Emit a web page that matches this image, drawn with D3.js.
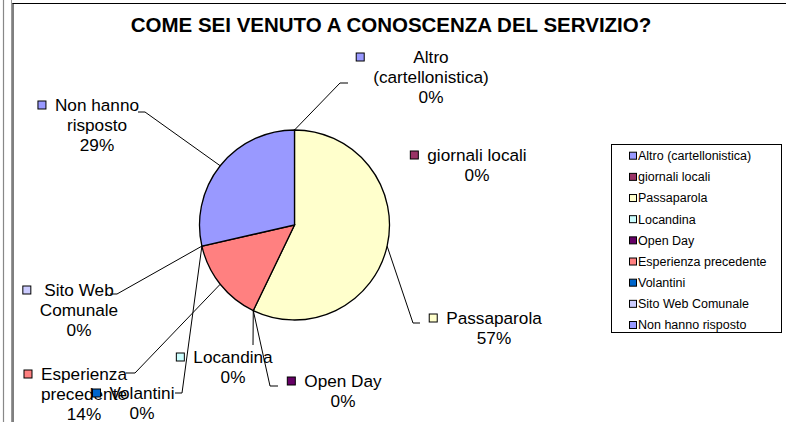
<!DOCTYPE html>
<html><head><meta charset="utf-8">
<script src="https://cdn.jsdelivr.net/npm/d3@7/dist/d3.min.js"></script>
<style>
html,body{margin:0;padding:0;background:#fff;}
svg{display:block;font-family:"Liberation Sans",Arial,sans-serif;}
</style></head>
<body><svg id="c" width="786" height="422"></svg>
<script>
// ---- data ----
const title = "COME SEI VENUTO A CONOSCENZA DEL SERVIZIO?";
const categories = ["Altro (cartellonistica)","giornali locali","Passaparola","Locandina","Open Day","Esperienza precedente","Volantini","Sito Web Comunale","Non hanno risposto"];
const counts = [0,0,4,0,0,1,0,0,2];
const colors = ["#9999FF","#993366","#FFFFCC","#CCFFFF","#660066","#FF8080","#0066CC","#CCCCFF","#9999FF"];
const labelLines = [["Altro","(cartellonistica)"],["giornali locali"],["Passaparola"],["Locandina"],["Open Day"],["Esperienza","precedente"],["Volantini"],["Sito Web","Comunale"],["Non hanno","risposto"]];

// ---- layout (positions only) ----
const labelLayout = [
  {cx:431, y0:57,  leader:[[340,83],[348,83]]},
  {cx:477, y0:155, leader:null},
  {cx:494, y0:318, leader:[[413,323],[420,323]]},
  {cx:233, y0:357, leader:[[253,345]]},
  {cx:343, y0:381, leader:[[270,386],[278,386]]},
  {cx:84,  y0:374, leader:[[135,373],[126,373]]},
  {cx:142, y0:393, leader:[[182,393],[175,393]]},
  {cx:79,  y0:290, leader:[[117,294],[110,294]]},
  {cx:97,  y0:105, leader:[[145,112],[138,112]]}
];
const cx = 294.5, cy = 225, R = 95;
const fs = 17.2, lh = 20;

const svg = d3.select("#c");
// page frame
svg.append("line").attr("x1",3.5).attr("x2",3.5).attr("y1",0).attr("y2",422).attr("stroke","#888").attr("stroke-width",1.2);
svg.append("line").attr("x1",11.5).attr("x2",11.5).attr("y1",0).attr("y2",422).attr("stroke","#999").attr("stroke-width",1);
svg.append("line").attr("x1",13).attr("x2",13).attr("y1",3).attr("y2",422).attr("stroke","#000").attr("stroke-width",1);
svg.append("line").attr("x1",12.5).attr("x2",786).attr("y1",3.5).attr("y2",3.5).attr("stroke","#000").attr("stroke-width",1);

svg.append("text").attr("x",391).attr("y",31.5).attr("text-anchor","middle")
  .attr("font-size",20.5).attr("font-weight","bold").text(title);

const total = d3.sum(counts);
const pie = d3.pie().sort(null).value(d=>d)(counts);
const arc = d3.arc().innerRadius(0).outerRadius(R);
const g = svg.append("g").attr("transform",`translate(${cx},${cy})`);
g.selectAll("path").data(pie.filter(d=>d.value>0)).join("path")
  .attr("d",arc).attr("fill",d=>colors[d.index]).attr("stroke","#000").attr("stroke-width",1.3);

const pct = d3.format(".0%");
pie.forEach((d,i)=>{
  const L = labelLayout[i];
  const mid = (d.startAngle+d.endAngle)/2;
  const sx = cx + R*Math.sin(mid), sy = cy - R*Math.cos(mid);
  if (L.leader) {
    const pts = [[sx,sy]].concat(L.leader);
    svg.append("path").attr("d",d3.line()(pts)).attr("fill","none").attr("stroke","#000").attr("stroke-width",1);
  }
  const lines = labelLines[i].concat([pct(counts[i]/total)]);
  const tg = svg.append("g");
  let maxW = 0;
  lines.forEach((t,k)=>{
    const te = tg.append("text").attr("x",L.cx).attr("y",L.y0+k*lh).attr("dy","0.35em")
      .attr("text-anchor","middle").attr("font-size",fs).attr("fill","#000").text(t);
    maxW = Math.max(maxW, te.node().getComputedTextLength());
  });
  const sqx = L.cx - maxW/2 - 13;
  svg.append("rect").attr("x",sqx-4).attr("y",L.y0-4).attr("width",8).attr("height",8)
    .attr("fill",colors[i]).attr("stroke","#000").attr("stroke-width",1);
});

// legend
const lg = svg.append("g");
lg.append("rect").attr("x",611.5).attr("y",144.5).attr("width",170).attr("height",188).attr("fill","#fff").attr("stroke","#000").attr("stroke-width",1);
const ly = d3.scalePoint().domain(categories).range([155.7,325]);
categories.forEach((c,i)=>{
  lg.append("rect").attr("x",629.5).attr("y",ly(c)-3.5).attr("width",7).attr("height",7)
    .attr("fill",colors[i]).attr("stroke","#000").attr("stroke-width",1);
  lg.append("text").attr("x",638).attr("y",ly(c)).attr("dy","0.35em").attr("font-size",12.5).text(c);
});
</script></body></html>
